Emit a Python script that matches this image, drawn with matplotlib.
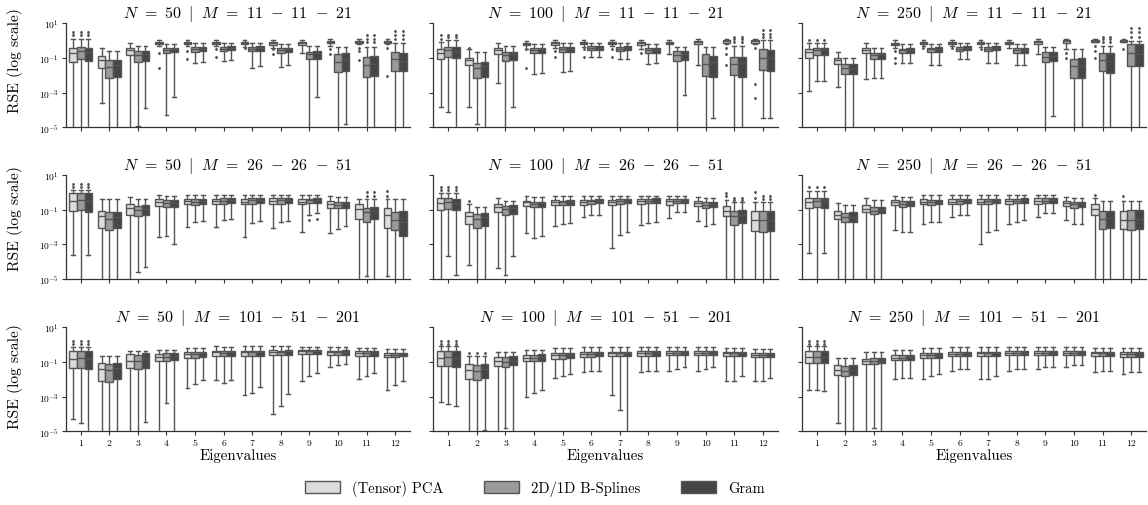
import matplotlib
matplotlib.use("Agg")
import matplotlib.pyplot as plt
from matplotlib.patches import Patch
from matplotlib.ticker import NullLocator

plt.rcParams.update({
    "font.family": "serif",
    "font.serif": ["cmr10"],
    "mathtext.fontset": "cm",
    "axes.unicode_minus": False,
    "axes.formatter.use_mathtext": True,
})

# ---------------- data (log10 RSE), rows = eigenvalue 1..12, cols = [PCA, B-Splines, Gram]
EIGEN = list(range(1, 13))
METHODS = ["(Tensor) PCA", "2D/1D B-Splines", "Gram"]
N_VALUES = [50, 100, 250]
M_LABELS = [["11", "11", "21"], ["26", "26", "51"], ["101", "51", "201"]]

# N=50, M=11-11-21
A_q3 = [[-0.44,-0.37,-0.40],[-0.88,-1.13,-1.12],[-0.40,-0.60,-0.60],[-0.08,-0.42,-0.40],[-0.06,-0.35,-0.35],[-0.08,-0.35,-0.31],
        [-0.08,-0.35,-0.31],[-0.08,-0.42,-0.42],[-0.08,-0.65,-0.60],[-0.02,-0.75,-0.69],[-0.02,-0.92,-0.88],[0.00,-0.65,-0.69]]
A_med = [[-0.69,-0.62,-0.63],[-1.13,-1.52,-1.42],[-0.56,-0.83,-0.79],[-0.13,-0.54,-0.50],[-0.12,-0.50,-0.46],[-0.13,-0.46,-0.40],
         [-0.13,-0.46,-0.40],[-0.15,-0.54,-0.50],[-0.15,-0.79,-0.69],[-0.08,-1.23,-1.13],[-0.06,-1.42,-1.37],[-0.06,-1.08,-1.17]]
A_q1 = [[-1.23,-1.08,-1.17],[-1.56,-2.17,-2.10],[-0.85,-1.23,-1.19],[-0.21,-0.69,-0.63],[-0.19,-0.63,-0.60],[-0.19,-0.60,-0.54],
        [-0.19,-0.60,-0.60],[-0.23,-0.69,-0.65],[-0.23,-1.08,-1.04],[-0.15,-1.81,-1.75],[-0.12,-2.08,-2.04],[-0.12,-1.75,-1.75]]
A_lo = [[-6,-6,-6],[-3.58,-6,-6],[-6,-4.92,-3.87],[-0.31,-4.31,-3.27],[-0.31,-1.27,-1.23],[-0.31,-1.17,-1.13],
        [-0.36,-1.56,-1.46],[-0.40,-1.50,-1.42],[-0.69,-6,-3.25],[-0.31,-6,-4.83],[-0.21,-6,-6],[-0.21,-6,-6]]
A_hi = [[0.12,0.12,0.12],[-0.40,-0.60,-0.60],[-0.12,-0.30,-0.30],[0.04,-0.17,-0.17],[0.06,-0.12,-0.12],[0.04,-0.12,-0.12],
        [0.04,-0.12,-0.12],[0.04,-0.17,-0.17],[0.04,-0.31,-0.31],[0.08,-0.36,-0.36],[0.10,-0.36,-0.36],[0.10,-0.12,-0.12]]
A_fl = [(1,0,[0.3,0.5]),(1,1,[0.3,0.5]),(1,2,[0.3,0.5]),(4,0,[-0.7,-1.56]),(5,0,[-0.6,-1.08]),(6,0,[-0.5,-0.92]),
        (7,0,[-0.45]),(8,0,[-0.5,-0.8]),(10,0,[-0.5,-0.79]),(11,0,[-0.4,-0.6,-1.1]),(11,1,[-0.1,0.1,0.3]),
        (11,2,[-0.1,0.1,0.3]),(12,0,[-0.4,-2.04]),(12,1,[0.1,0.3,0.56]),(12,2,[0.1,0.3,0.56])]

# N=100, M=11-11-21
B_q3 = [[-0.46,-0.37,-0.37],[-0.98,-1.27,-1.21],[-0.40,-0.63,-0.63],[-0.12,-0.44,-0.44],[-0.08,-0.37,-0.37],[-0.06,-0.31,-0.31],
        [-0.06,-0.35,-0.31],[-0.06,-0.44,-0.44],[-0.06,-0.60,-0.60],[-0.02,-0.79,-0.88],[0.02,-0.92,-0.92],[0.02,-0.50,-0.56]]
B_med = [[-0.69,-0.56,-0.60],[-1.13,-1.56,-1.46],[-0.54,-0.83,-0.79],[-0.17,-0.54,-0.50],[-0.15,-0.46,-0.46],[-0.12,-0.40,-0.40],
         [-0.12,-0.46,-0.40],[-0.15,-0.56,-0.54],[-0.12,-0.85,-0.75],[-0.08,-1.37,-1.23],[-0.04,-1.37,-1.27],[-0.04,-0.98,-0.98]]
B_q1 = [[-1.08,-0.92,-0.98],[-1.42,-2.15,-2.08],[-0.79,-1.17,-1.13],[-0.27,-0.69,-0.69],[-0.23,-0.63,-0.63],[-0.21,-0.54,-0.54],
        [-0.21,-0.60,-0.54],[-0.25,-0.73,-0.69],[-0.21,-1.17,-1.13],[-0.17,-2.04,-2.10],[-0.12,-2.00,-2.10],[-0.12,-1.71,-1.75]]
B_lo = [[-3.81,-4.10,-6],[-3.81,-4.83,-6],[-2.46,-6,-3.81],[-0.46,-1.90,-1.85],[-0.40,-1.81,-1.75],[-0.35,-0.92,-0.92],
        [-0.31,-1.08,-1.08],[-0.50,-1.37,-1.31],[-0.79,-6,-3.13],[-1.42,-6,-4.44],[-0.21,-6,-6],[-0.21,-4.44,-4.44]]
B_hi = [[-0.06,0.04,0.04],[-0.46,-0.65,-0.65],[-0.12,-0.31,-0.31],[0.00,-0.17,-0.17],[0.04,-0.12,-0.12],[0.04,-0.12,-0.12],
        [0.04,-0.12,-0.12],[0.04,-0.17,-0.17],[0.04,-0.36,-0.36],[0.08,-0.36,-0.36],[0.10,-0.31,-0.31],[0.10,0.04,0.04]]
B_fl = [(1,0,[0.1,0.31]),(1,1,[0.2,0.31]),(1,2,[0.2,0.31]),(2,0,[-0.4]),(4,0,[-0.5,-1.56]),(5,0,[-0.6,-0.92]),(6,0,[-0.5,-0.92]),
        (7,0,[-0.5,-0.92]),(8,0,[-0.7]),(11,0,[-0.4,-0.8,-1.42]),(11,1,[-0.1,0.1,0.23]),(11,2,[-0.1,0.1,0.23]),
        (12,0,[-0.4,-2.52,-3.29]),(12,1,[0.2,0.4,0.62]),(12,2,[0.2,0.4,0.62])]

# N=250, M=11-11-21
C_q3 = [[-0.50,-0.40,-0.40],[-0.98,-1.37,-1.33],[-0.44,-0.69,-0.69],[-0.12,-0.46,-0.44],[-0.08,-0.40,-0.37],[-0.06,-0.35,-0.31],
        [-0.06,-0.37,-0.31],[-0.06,-0.44,-0.44],[-0.02,-0.65,-0.65],[0.02,-1.04,-0.98],[0.04,-0.69,-0.73],[0.04,-0.17,-0.17]]
C_med = [[-0.65,-0.56,-0.56],[-1.13,-1.60,-1.60],[-0.56,-0.83,-0.79],[-0.17,-0.56,-0.54],[-0.13,-0.50,-0.46],[-0.12,-0.46,-0.40],
         [-0.12,-0.46,-0.40],[-0.12,-0.56,-0.54],[-0.08,-0.92,-0.88],[-0.04,-1.46,-1.46],[-0.02,-1.13,-1.17],[0.00,-0.73,-0.75]]
C_q1 = [[-0.98,-0.85,-0.85],[-1.33,-1.94,-1.94],[-0.73,-1.08,-1.08],[-0.25,-0.69,-0.69],[-0.21,-0.63,-0.63],[-0.19,-0.60,-0.54],
        [-0.19,-0.60,-0.54],[-0.21,-0.69,-0.69],[-0.17,-1.23,-1.17],[-0.12,-2.13,-2.17],[-0.08,-1.75,-1.85],[-0.06,-1.46,-1.46]]
C_lo = [[-2.90,-2.33,-2.33],[-2.65,-6,-6],[-2.23,-2.17,-2.13],[-0.40,-1.27,-1.27],[-0.31,-1.42,-1.42],[-0.31,-1.08,-1.08],
        [-0.36,-1.27,-1.27],[-0.40,-1.42,-1.42],[-0.79,-6,-4.35],[-0.50,-6,-6],[-0.10,-6,-6],[-0.10,-6,-6]]
C_hi = [[-0.12,-0.12,-0.12],[-0.65,-0.98,-0.98],[-0.15,-0.40,-0.40],[0.02,-0.21,-0.21],[0.06,-0.17,-0.17],[0.06,-0.12,-0.12],
        [0.06,-0.12,-0.12],[0.06,-0.21,-0.21],[0.10,-0.36,-0.36],[0.10,-0.46,-0.46],[0.12,-0.31,-0.31],[0.12,0.00,0.00]]
C_fl = [(1,0,[0.04]),(1,1,[0.04]),(1,2,[0.04]),(4,0,[-0.6,-1.0,-1.27]),(5,0,[-0.44]),(6,0,[-0.44]),(7,0,[-0.5]),
        (10,0,[-0.7,-1.0]),(11,0,[-0.3,-0.6,-1.0]),(11,1,[-0.1,0.1,0.23]),(11,2,[-0.1,0.1,0.23]),(12,0,[-0.5]),
        (12,1,[0.2,0.5,0.75]),(12,2,[0.2,0.5,0.75])]

# N=50, M=26-26-51
D_q3 = [[-0.02,-0.02,-0.02],[-1.07,-1.16,-1.11],[-0.69,-0.78,-0.74],[-0.40,-0.46,-0.44],[-0.36,-0.36,-0.36],[-0.36,-0.34,-0.30],
        [-0.40,-0.34,-0.30],[-0.34,-0.34,-0.30],[-0.40,-0.36,-0.34],[-0.49,-0.55,-0.53],[-0.69,-0.92,-0.84],[-0.93,-1.13,-1.07]]
D_med = [[-0.49,-0.44,-0.49],[-1.39,-1.51,-1.41],[-0.92,-1.01,-0.97],[-0.55,-0.63,-0.59],[-0.49,-0.53,-0.49],[-0.49,-0.49,-0.44],
         [-0.53,-0.46,-0.44],[-0.49,-0.46,-0.44],[-0.53,-0.46,-0.44],[-0.65,-0.72,-0.65],[-0.97,-1.16,-1.07],[-1.30,-1.61,-1.74]]
D_q1 = [[-1.07,-1.01,-1.13],[-2.03,-2.16,-2.08],[-1.32,-1.39,-1.32],[-0.78,-0.84,-0.82],[-0.69,-0.72,-0.69],[-0.69,-0.65,-0.59],
        [-0.69,-0.65,-0.59],[-0.65,-0.65,-0.59],[-0.69,-0.63,-0.59],[-0.93,-0.93,-0.91],[-1.51,-1.74,-1.55],[-2.03,-2.18,-2.50]]
D_lo = [[-3.60,-6,-3.60],[-6,-6,-6],[-6,-4.61,-4.33],[-2.60,-2.54,-2.98],[-1.99,-1.74,-1.64],[-1.99,-1.59,-1.51],
        [-2.56,-1.78,-1.68],[-2.08,-1.74,-1.64],[-2.31,-1.30,-1.22],[-2.37,-2.12,-1.93],[-6,-4.80,-6],[-4.84,-6,-6]]
D_hi = [[0.14,0.14,0.14],[-0.36,-0.40,-0.40],[-0.25,-0.36,-0.36],[-0.17,-0.21,-0.21],[-0.15,-0.15,-0.15],[-0.15,-0.15,-0.15],
        [-0.15,-0.15,-0.15],[-0.15,-0.15,-0.15],[-0.15,-0.15,-0.15],[-0.21,-0.25,-0.25],[-0.36,-0.40,-0.40],[-0.36,-0.40,-0.40]]
D_fl = [(1,0,[0.3,0.46]),(1,1,[0.3,0.46]),(1,2,[0.3,0.46]),(9,1,[-1.59]),(9,2,[-1.51]),(11,1,[-0.2,0.02]),
        (11,2,[-0.2,0.02]),(12,0,[-0.2,0.08])]

# N=100, M=26-26-51
E_q3 = [[-0.35,-0.35,-0.38],[-1.12,-1.25,-1.19],[-0.67,-0.77,-0.73],[-0.48,-0.54,-0.54],[-0.42,-0.48,-0.44],[-0.44,-0.42,-0.38],
        [-0.44,-0.38,-0.38],[-0.38,-0.38,-0.35],[-0.38,-0.38,-0.38],[-0.52,-0.58,-0.54],[-0.77,-1.06,-1.00],[-1.06,-1.10,-1.10]]
E_med = [[-0.63,-0.58,-0.63],[-1.35,-1.54,-1.44],[-0.87,-0.96,-0.92],[-0.58,-0.67,-0.63],[-0.54,-0.58,-0.54],[-0.58,-0.52,-0.48],
         [-0.58,-0.52,-0.48],[-0.52,-0.48,-0.48],[-0.52,-0.48,-0.48],[-0.63,-0.71,-0.67],[-1.06,-1.35,-1.29],[-1.58,-1.58,-1.58]]
E_q1 = [[-1.00,-0.96,-1.00],[-1.83,-2.06,-1.96],[-1.12,-1.29,-1.25],[-0.81,-0.87,-0.83],[-0.73,-0.73,-0.73],[-0.73,-0.67,-0.63],
        [-0.73,-0.67,-0.63],[-0.67,-0.63,-0.63],[-0.73,-0.62,-0.62],[-0.81,-0.92,-0.87],[-1.38,-1.87,-1.79],[-2.21,-2.31,-2.25]]
E_lo = [[-6,-3.69,-4.77],[-4.19,-6,-6],[-4.38,-4.77,-3.69],[-2.37,-2.63,-2.50],[-1.92,-1.83,-1.77],[-1.40,-1.31,-1.29],
        [-3.21,-2.46,-2.31],[-1.88,-1.77,-1.69],[-1.48,-1.15,-1.12],[-1.63,-1.92,-1.83],[-6,-6,-6],[-6,-6,-6]]
E_hi = [[-0.04,-0.04,-0.04],[-0.67,-0.87,-0.87],[-0.35,-0.48,-0.48],[-0.19,-0.29,-0.29],[-0.19,-0.19,-0.19],[-0.19,-0.19,-0.19],
        [-0.19,-0.19,-0.19],[-0.19,-0.19,-0.19],[-0.19,-0.19,-0.19],[-0.27,-0.35,-0.35],[-0.42,-0.58,-0.58],[-0.58,-0.58,-0.58]]
E_fl = [(1,0,[0.15,0.29]),(1,1,[0.15,0.29]),(1,2,[0.15,0.29]),(2,0,[-0.52]),(11,0,[-0.2,-0.04]),(11,1,[-0.45,-0.35]),
        (11,2,[-0.45,-0.35]),(12,0,[-0.3,0.0]),(12,1,[-0.4,-0.19]),(12,2,[-0.4,-0.19])]

# N=250, M=26-26-51
F_q3 = [[-0.30,-0.30,-0.30],[-1.10,-1.20,-1.15],[-0.75,-0.85,-0.85],[-0.45,-0.50,-0.50],[-0.40,-0.45,-0.42],[-0.40,-0.40,-0.38],
        [-0.40,-0.38,-0.36],[-0.38,-0.36,-0.35],[-0.35,-0.35,-0.35],[-0.50,-0.55,-0.55],[-0.65,-1.10,-1.05],[-1.05,-1.00,-1.00]]
F_med = [[-0.55,-0.50,-0.52],[-1.30,-1.45,-1.42],[-0.95,-1.05,-1.02],[-0.58,-0.65,-0.62],[-0.55,-0.58,-0.55],[-0.55,-0.52,-0.50],
         [-0.55,-0.52,-0.48],[-0.50,-0.48,-0.47],[-0.50,-0.48,-0.47],[-0.62,-0.70,-0.68],[-0.95,-1.55,-1.50],[-1.60,-1.60,-1.55]]
F_q1 = [[-0.90,-0.85,-0.88],[-1.55,-1.70,-1.70],[-1.15,-1.25,-1.22],[-0.75,-0.82,-0.80],[-0.70,-0.72,-0.70],[-0.70,-0.65,-0.62],
        [-0.70,-0.65,-0.62],[-0.65,-0.62,-0.60],[-0.65,-0.60,-0.60],[-0.78,-0.88,-0.85],[-1.30,-2.10,-2.05],[-2.10,-2.15,-2.10]]
F_lo = [[-3.50,-6,-3.50],[-6,-6,-6],[-6,-6,-6],[-2.20,-2.30,-2.30],[-1.80,-1.70,-1.70],[-1.40,-1.30,-1.30],
        [-3.00,-2.30,-2.20],[-1.80,-1.70,-1.60],[-1.40,-1.20,-1.20],[-1.60,-1.80,-1.80],[-6,-6,-6],[-6,-6,-6]]
F_hi = [[0.10,0.10,0.10],[-0.60,-0.75,-0.75],[-0.35,-0.45,-0.45],[-0.20,-0.25,-0.25],[-0.18,-0.18,-0.18],[-0.18,-0.18,-0.18],
        [-0.18,-0.18,-0.18],[-0.18,-0.18,-0.18],[-0.18,-0.18,-0.18],[-0.25,-0.30,-0.30],[-0.35,-0.50,-0.50],[-0.50,-0.50,-0.50]]
F_fl = [(1,0,[0.3]),(1,1,[0.3]),(1,2,[0.3]),(11,0,[-0.15]),(12,0,[-0.2])]

# N=50, M=101-51-201
G_q3 = [[-0.35,-0.35,-0.35],[-1.07,-1.12,-1.07],[-0.54,-0.60,-0.51],[-0.54,-0.51,-0.51],[-0.45,-0.45,-0.41],[-0.39,-0.39,-0.39],
        [-0.35,-0.35,-0.35],[-0.31,-0.35,-0.31],[-0.31,-0.31,-0.31],[-0.35,-0.35,-0.31],[-0.39,-0.39,-0.39],[-0.51,-0.51,-0.51]]
G_med = [[-0.83,-0.79,-0.83],[-1.41,-1.45,-1.32],[-0.93,-0.93,-0.79],[-0.74,-0.70,-0.68],[-0.54,-0.54,-0.51],[-0.45,-0.49,-0.45],
         [-0.45,-0.45,-0.45],[-0.41,-0.41,-0.39],[-0.39,-0.39,-0.39],[-0.45,-0.45,-0.41],[-0.49,-0.49,-0.49],[-0.58,-0.58,-0.58]]
G_q1 = [[-1.32,-1.32,-1.41],[-2.09,-2.15,-1.99],[-1.35,-1.41,-1.32],[-0.93,-0.93,-0.89],[-0.78,-0.78,-0.74],[-0.64,-0.64,-0.64],
        [-0.64,-0.64,-0.64],[-0.60,-0.60,-0.58],[-0.54,-0.54,-0.54],[-0.60,-0.60,-0.58],[-0.64,-0.64,-0.64],[-0.74,-0.74,-0.68]]
G_lo = [[-4.27,-4.54,-6],[-6,-6,-6],[-6,-6,-4.44],[-6,-3.34,-6],[-2.53,-2.28,-2.05],[-2.05,-2.24,-2.05],
        [-2.90,-2.80,-2.44],[-4.02,-3.54,-2.86],[-2.09,-1.80,-1.66],[-1.28,-1.18,-1.12],[-1.99,-1.80,-1.66],[-2.61,-2.32,-2.09]]
G_hi = [[-0.16,-0.16,-0.16],[-0.64,-0.64,-0.64],[-0.39,-0.39,-0.39],[-0.29,-0.29,-0.29],[-0.22,-0.22,-0.22],[-0.10,-0.16,-0.16],
        [-0.06,-0.10,-0.10],[-0.10,-0.10,-0.10],[-0.12,-0.12,-0.12],[-0.12,-0.12,-0.12],[-0.20,-0.20,-0.20],[-0.26,-0.26,-0.26]]
G_fl = [(1,0,[0.05,0.23]),(1,1,[0.05,0.23]),(1,2,[0.05,0.23])]

# N=100, M=101-51-201
H_q3 = [[-0.35,-0.35,-0.38],[-1.10,-1.15,-1.10],[-0.70,-0.72,-0.68],[-0.60,-0.58,-0.56],[-0.48,-0.48,-0.46],[-0.42,-0.42,-0.42],
        [-0.40,-0.40,-0.40],[-0.38,-0.38,-0.38],[-0.36,-0.36,-0.36],[-0.36,-0.36,-0.36],[-0.40,-0.40,-0.40],[-0.48,-0.48,-0.48]]
H_med = [[-0.75,-0.72,-0.78],[-1.45,-1.50,-1.40],[-0.95,-0.98,-0.92],[-0.78,-0.76,-0.74],[-0.60,-0.60,-0.58],[-0.52,-0.52,-0.52],
         [-0.50,-0.50,-0.50],[-0.48,-0.48,-0.48],[-0.46,-0.46,-0.46],[-0.46,-0.46,-0.46],[-0.50,-0.50,-0.50],[-0.58,-0.58,-0.58]]
H_q1 = [[-1.25,-1.22,-1.30],[-2.00,-2.05,-1.95],[-1.25,-1.28,-1.20],[-0.95,-0.95,-0.92],[-0.80,-0.80,-0.78],[-0.70,-0.70,-0.68],
        [-0.68,-0.68,-0.68],[-0.65,-0.65,-0.65],[-0.62,-0.62,-0.62],[-0.62,-0.62,-0.62],[-0.68,-0.68,-0.66],[-0.72,-0.72,-0.72]]
H_lo = [[-3.33,-3.43,-3.56],[-6,-6,-4.95],[-6,-4.83,-6],[-3.04,-2.81,-2.62],[-1.90,-1.80,-1.70],[-1.60,-1.50,-1.50],
        [-2.89,-3.77,-6],[-1.60,-1.50,-1.50],[-1.50,-1.40,-1.30],[-1.50,-1.40,-1.30],[-2.08,-2.08,-1.80],[-2.10,-2.10,-1.90]]
H_hi = [[-0.10,-0.10,-0.10],[-0.65,-0.65,-0.65],[-0.40,-0.40,-0.40],[-0.30,-0.30,-0.30],[-0.22,-0.22,-0.22],[-0.15,-0.15,-0.15],
        [-0.12,-0.12,-0.12],[-0.12,-0.12,-0.12],[-0.12,-0.12,-0.12],[-0.12,-0.12,-0.12],[-0.20,-0.20,-0.20],[-0.26,-0.26,-0.26]]
H_fl = [(1,0,[0.05,0.2]),(1,1,[0.05,0.2]),(1,2,[0.05,0.2]),(2,0,[-0.5]),(2,1,[-0.5]),(2,2,[-0.5])]

# N=250, M=101-51-201
I_q3 = [[-0.38,-0.38,-0.38],[-1.20,-1.25,-1.20],[-0.80,-0.78,-0.75],[-0.60,-0.60,-0.58],[-0.50,-0.50,-0.48],[-0.42,-0.42,-0.42],
        [-0.40,-0.40,-0.40],[-0.38,-0.38,-0.38],[-0.36,-0.36,-0.36],[-0.36,-0.36,-0.36],[-0.40,-0.40,-0.40],[-0.45,-0.45,-0.45]]
I_med = [[-0.70,-0.70,-0.72],[-1.45,-1.50,-1.45],[-0.95,-0.95,-0.92],[-0.75,-0.75,-0.72],[-0.62,-0.62,-0.60],[-0.52,-0.52,-0.52],
         [-0.50,-0.50,-0.50],[-0.48,-0.48,-0.48],[-0.46,-0.46,-0.46],[-0.46,-0.46,-0.46],[-0.50,-0.50,-0.50],[-0.55,-0.55,-0.55]]
I_q1 = [[-1.05,-1.05,-1.08],[-1.75,-1.80,-1.75],[-1.10,-1.10,-1.08],[-0.90,-0.90,-0.88],[-0.78,-0.78,-0.76],[-0.68,-0.68,-0.66],
        [-0.65,-0.65,-0.65],[-0.62,-0.62,-0.62],[-0.60,-0.60,-0.60],[-0.60,-0.60,-0.60],[-0.65,-0.65,-0.65],[-0.70,-0.70,-0.70]]
I_lo = [[-2.60,-2.60,-2.70],[-4.50,-6,-6],[-6,-4.80,-6],[-2.00,-1.90,-1.90],[-2.00,-1.80,-1.70],[-1.50,-1.40,-1.40],
        [-2.00,-2.00,-1.80],[-1.50,-1.40,-1.40],[-1.40,-1.30,-1.30],[-1.30,-1.20,-1.20],[-1.60,-1.50,-1.50],[-1.70,-1.60,-1.60]]
I_hi = [[-0.10,-0.10,-0.10],[-0.75,-0.75,-0.75],[-0.45,-0.45,-0.45],[-0.30,-0.30,-0.30],[-0.22,-0.22,-0.22],[-0.15,-0.15,-0.15],
        [-0.12,-0.12,-0.12],[-0.12,-0.12,-0.12],[-0.12,-0.12,-0.12],[-0.12,-0.12,-0.12],[-0.18,-0.18,-0.18],[-0.22,-0.22,-0.22]]
I_fl = [(1,0,[0.05,0.2]),(1,1,[0.05,0.2]),(1,2,[0.05,0.2])]

# ---------------- styling
BOX_COLORS = ["#dcdcdc", "#9a9a9a", "#464646"]
LINE_COLOR = "#555555"
BOX_W = 0.8 / 3
OFFSETS = [-BOX_W, 0.0, BOX_W]

PANELS = [
    [(A_lo, A_q1, A_med, A_q3, A_hi, A_fl), (B_lo, B_q1, B_med, B_q3, B_hi, B_fl), (C_lo, C_q1, C_med, C_q3, C_hi, C_fl)],
    [(D_lo, D_q1, D_med, D_q3, D_hi, D_fl), (E_lo, E_q1, E_med, E_q3, E_hi, E_fl), (F_lo, F_q1, F_med, F_q3, F_hi, F_fl)],
    [(G_lo, G_q1, G_med, G_q3, G_hi, G_fl), (H_lo, H_q1, H_med, H_q3, H_hi, H_fl), (I_lo, I_q1, I_med, I_q3, I_hi, I_fl)],
]

W, H = 1148, 506
fig = plt.figure(figsize=(W / 100, H / 100), dpi=100)

col_left = [65.7, 433.3, 801.7]
row_top = [24.3, 176.0, 328.3]
ax_w, ax_h = 344.4, 104.0
ylabel_center = [61.0, 219.0, 376.5]
SP = r"\>\,"

for r in range(3):
    for c in range(3):
        lo, q1, med, q3, hi, fl = PANELS[r][c]
        ax = fig.add_axes([col_left[c] / W, 1 - (row_top[r] + ax_h) / H, ax_w / W, ax_h / H])
        fl_map = {(e, m): v for e, m, v in fl}
        stats, pos = [], []
        for i, e in enumerate(EIGEN):
            for m in range(3):
                stats.append(dict(
                    med=10 ** med[i][m], q1=10 ** q1[i][m], q3=10 ** q3[i][m],
                    whislo=10 ** lo[i][m], whishi=10 ** hi[i][m],
                    fliers=[10 ** v for v in fl_map.get((e, m), [])]))
                pos.append(e + OFFSETS[m])
        bp = ax.bxp(stats, positions=pos, widths=BOX_W, patch_artist=True, showfliers=True,
                    boxprops=dict(edgecolor=LINE_COLOR, linewidth=1.0),
                    whiskerprops=dict(color=LINE_COLOR, linewidth=1.0),
                    capprops=dict(color=LINE_COLOR, linewidth=1.0),
                    medianprops=dict(color=LINE_COLOR, linewidth=1.0),
                    flierprops=dict(marker="d", markersize=1.2, markerfacecolor=LINE_COLOR,
                                    markeredgecolor=LINE_COLOR, linestyle="none"))
        for k, patch in enumerate(bp["boxes"]):
            patch.set_facecolor(BOX_COLORS[k % 3])
        ax.set_yscale("log")
        ax.set_ylim(1e-5, 1e1)
        ax.set_xlim(0.475, 12.525)
        ax.set_yticks([1e-5, 1e-3, 1e-1, 1e1])
        ax.yaxis.set_minor_locator(NullLocator())
        if c == 0:
            ax.set_yticklabels([r"$10^{-5}$", r"$10^{-3}$", r"$10^{-1}$", r"$10^{1}$"], fontsize=6.8)
            ax.set_ylabel("RSE (log scale)", fontsize=11.2)
            ax.yaxis.set_label_coords((23 - col_left[0]) / ax_w,
                                      (row_top[r] + ax_h - ylabel_center[r]) / ax_h)
        else:
            ax.set_yticklabels([])
        ax.set_xticks(EIGEN)
        if r == 2:
            ax.set_xticklabels([str(e) for e in EIGEN], fontsize=7)
            ax.set_xlabel("Eigenvalues", fontsize=10.8, labelpad=1)
        else:
            ax.set_xticklabels([])
        ax.tick_params(length=3, width=0.8, color="#333333", pad=2)
        for s in ["top", "right"]:
            ax.spines[s].set_visible(False)
        for s in ["left", "bottom"]:
            ax.spines[s].set_color("#333333")
            ax.spines[s].set_linewidth(0.9)
        m1, m2, m3 = M_LABELS[r]
        title = (r"$N" + SP + "=" + SP + str(N_VALUES[c]) + SP + r"\mid" + SP + "M" + SP + "=" + SP
                 + m1 + SP + "-" + SP + m2 + SP + "-" + SP + m3 + "$")
        ax.set_title(title, fontsize=11.5, pad=4)

handles = [Patch(facecolor=BOX_COLORS[m], edgecolor=LINE_COLOR, linewidth=1.0, label=METHODS[m]) for m in range(3)]
fig.legend(handles=handles, loc="center", bbox_to_anchor=(535 / W, 1 - 489 / H), ncol=3, frameon=False,
           fontsize=10.5, handlelength=2.4, handleheight=0.9, columnspacing=2.8, handletextpad=0.8)

fig.savefig("out.png", dpi=100)
